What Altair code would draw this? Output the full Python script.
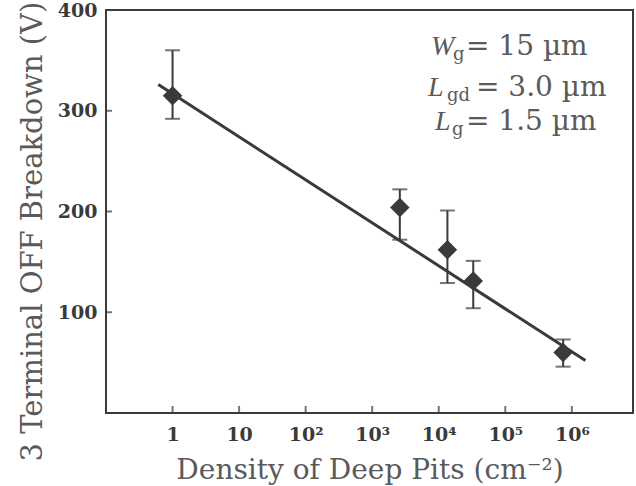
import json
import altair as alt
import pandas as pd

# ---- data ----
density = [1.0, 2600, 13500, 33000, 740000]
breakdown = [315, 204, 162, 131, 60]
err_low = [292, 172, 129, 104, 46]
err_high = [360, 222, 201, 151, 73]

fit_density = [0.61, 1.6e6]
fit_breakdown = [326, 52]

x_tick_values = [1, 10, 100, 1000, 10000, 100000, 1000000]
x_tick_labels = ["1", "10", "10²", "10³", "10⁴", "10⁵", "10⁶"]
y_tick_values = [100, 200, 300, 400]

FONT = "DejaVu Serif"
IFONT = "Liberation Serif"
DARK = "#3a3a3a"
GRAY = "#5a5a5a"

pts = pd.DataFrame({"d": density, "v": breakdown, "lo": err_low, "hi": err_high})
fit = pd.DataFrame({"d": fit_density, "v": fit_breakdown})
xt = pd.DataFrame({"d": x_tick_values})
yt = pd.DataFrame({"v": y_tick_values[:-1]})

xscale = alt.Scale(type="log", domain=[0.1, 8.3e6], nice=False)
yscale = alt.Scale(domain=[0, 400], nice=False, zero=False)

label_expr = "%s[round(log(datum.value)/LN10)]" % json.dumps(x_tick_labels)

xaxis = alt.Axis(
    values=x_tick_values,
    labelExpr=label_expr,
    title="Density of Deep Pits (cm⁻²)",
    grid=False, ticks=False, domain=False,
    labelFont=FONT, labelFontSize=19, labelFontWeight="bold", labelColor=DARK,
    labelPadding=12, labelFlush=False,
    titleFont=FONT, titleFontSize=28, titleFontWeight="normal", titleColor=GRAY,
    titlePadding=12,
)
yaxis = alt.Axis(
    values=y_tick_values,
    title="3 Terminal OFF Breakdown (V)",
    grid=False, ticks=False, domain=False,
    labelFont=FONT, labelFontSize=19, labelFontWeight="bold", labelColor=DARK,
    labelPadding=9, labelFlush=False,
    titleFont=FONT, titleFontSize=29, titleFontWeight="normal", titleColor=GRAY,
    titlePadding=10, titleY=221,
)

base_x = alt.X("d:Q", scale=xscale, axis=xaxis)
base_y = alt.Y("v:Q", scale=yscale, axis=yaxis)

fit_line = alt.Chart(fit).mark_line(color=DARK, strokeWidth=3).encode(x=base_x, y=base_y)

bars = alt.Chart(pts).mark_rule(color=DARK, strokeWidth=2).encode(
    x=alt.X("d:Q", scale=xscale), y=alt.Y("lo:Q", scale=yscale), y2="hi:Q"
)
cap_lo = alt.Chart(pts).mark_tick(color=DARK, orient="horizontal", size=15, thickness=2).encode(
    x=alt.X("d:Q", scale=xscale), y=alt.Y("lo:Q", scale=yscale)
)
cap_hi = alt.Chart(pts).mark_tick(color=DARK, orient="horizontal", size=15, thickness=2).encode(
    x=alt.X("d:Q", scale=xscale), y=alt.Y("hi:Q", scale=yscale)
)
diamonds = alt.Chart(pts).mark_point(
    shape="diamond", filled=True, size=380, color=DARK, opacity=1
).encode(x=alt.X("d:Q", scale=xscale), y=alt.Y("v:Q", scale=yscale))

xticks = alt.Chart(xt).mark_tick(color=DARK, orient="vertical", size=7, thickness=2, yOffset=-3.5).encode(
    x=alt.X("d:Q", scale=xscale), y=alt.datum(0)
)
yticks = alt.Chart(yt).mark_tick(color=DARK, orient="horizontal", size=6, thickness=2, xOffset=3).encode(
    y=alt.Y("v:Q", scale=yscale), x=alt.datum(0.1)
)

def txt(s, x, y, size, style="normal", font=FONT):
    return alt.Chart(pd.DataFrame({"t": [s]})).mark_text(
        font=font, fontSize=size, fontStyle=style, color=GRAY,
        align="left", baseline="alphabetic"
    ).encode(text="t:N", x=alt.value(x), y=alt.value(y))

ann = [
    txt("W", 325, 45, 28, "italic", IFONT),
    txt("g", 347, 50, 18),
    txt("= 15 µm", 360, 45, 28),
    txt("L", 322, 86, 28, "italic", IFONT),
    txt("gd", 341, 91, 18),
    txt("= 3.0 µm", 370, 86, 28),
    txt("L", 329, 120, 28, "italic", IFONT),
    txt("g", 346, 125, 18),
    txt("= 1.5 µm", 360, 120, 28),
]

chart = alt.layer(
    fit_line, bars, cap_lo, cap_hi, diamonds, xticks, yticks, *ann
).properties(
    width=527, height=403,
    autosize=alt.AutoSizeParams(type="none"),
    padding={"left": 106, "top": 10, "right": 3, "bottom": 73},
    background="white",
).configure_view(
    stroke=DARK, strokeWidth=2
)

chart.save("out.html", embed_options={"renderer": "svg", "actions": False})
